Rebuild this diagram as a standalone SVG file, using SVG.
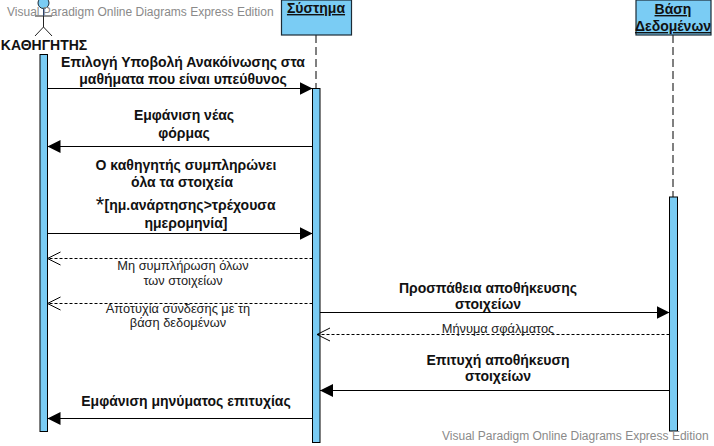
<svg xmlns="http://www.w3.org/2000/svg" width="714" height="446" viewBox="0 0 714 446">
<defs>
<marker id="solid" markerUnits="userSpaceOnUse" markerWidth="14" markerHeight="14" refX="13" refY="7" orient="auto"><path d="M0,0.5 L13,7 L0,13.5 Z" fill="#000"/></marker>
<marker id="open" markerUnits="userSpaceOnUse" markerWidth="15" markerHeight="16" refX="14" refY="8" orient="auto"><path d="M1,1.5 L14,8 L1,14.5" fill="none" stroke="#000" stroke-width="1"/></marker>
</defs>
<style>
text{font-family:"Liberation Sans",Arial,sans-serif;text-anchor:middle;fill:#111}
.b{font-weight:bold;font-size:14px}
.s{font-size:12.8px;fill:#222}
.h{font-weight:bold;font-size:14px;text-decoration:underline}
.w{font-size:12px;fill:#8a8a8a;text-anchor:start}
.box{fill:#7accf4;stroke:#1c2b36;stroke-width:1.2}
.bar{fill:#7accf4;stroke:#000;stroke-width:1}
.life{stroke:#000;stroke-width:1;stroke-dasharray:8 4;fill:none}
.m{stroke:#000;stroke-width:1.2;fill:none;marker-end:url(#solid)}
.d{stroke:#000;stroke-width:1;stroke-dasharray:3 2;fill:none;marker-end:url(#open)}
</style>
<g id="lifelines">
<path class="life" d="M316,35V88"/>
<path class="life" d="M673,35V197"/>
</g>
<g id="actor-kathigitis">
<circle cx="43.500" cy="3" r="5.500" fill="#7accf4" stroke="#1c2b36"/>
<path d="M43.500,8.500V27M35,16H52M43.500,27L35,36M43.500,27L52,36" stroke="#222" fill="none"/>
<text class="b" x="44" y="50">ΚΑΘΗΓΗΤΗΣ</text>
<rect class="bar" x="40" y="54.500" width="7.500" height="377"/>
</g>
<g id="node-systima">
<rect class="box" x="281.500" y="0" width="70" height="35"/>
<text class="h" x="316" y="13">Σύστημα</text>
<rect class="bar" x="312.500" y="88.500" width="7.500" height="354"/>
</g>
<g id="node-vasi">
<rect class="box" x="636" y="0" width="75" height="35"/>
<text class="h" x="673" y="14">Βάση</text>
<text class="h" x="673" y="31">Δεδομένων</text>
<rect class="bar" x="669.500" y="197" width="8" height="234"/>
</g>
<g id="connectors">
<path class="m" d="M47.500,88.500H312.500"/>
<path class="m" d="M312.500,146.500H47.500"/>
<path class="m" d="M47.500,233.500H312.500"/>
<path class="d" d="M312.500,258.500H47.500"/>
<path class="d" d="M312.500,303.500H47.500"/>
<path class="m" d="M320,312.500H669.500"/>
<path class="d" d="M669.500,334.500H317"/>
<path class="m" d="M669.500,390.500H320"/>
<path class="m" d="M312.500,418.500H47.500"/>
</g>
<g id="labels">
<text class="b" x="183" y="67">Επιλογή Υποβολή Ανακόίνωσης στα</text>
<text class="b" x="183" y="84">μαθήματα που είναι υπεύθυνος</text>
<text class="b" x="184" y="120">Εμφάνιση νέας</text>
<text class="b" x="184" y="138">φόρμας</text>
<text class="b" x="186" y="170">Ο καθηγητής συμπληρώνει</text>
<text class="b" x="182" y="187">όλα τα στοιχεία</text>
<text x="100" y="212" font-size="22">*</text>
<text class="b" x="190" y="210">[ημ.ανάρτησης&gt;τρέχουσα</text>
<text class="b" x="186" y="228">ημερομηνία]</text>
<text class="s" x="183" y="270">Μη συμπλήρωση όλων</text>
<text class="s" x="183" y="285">των στοιχείων</text>
<text class="s" x="178" y="313">Αποτυχία σύνδεσης με τη</text>
<text class="s" x="178" y="327">βάση δεδομένων</text>
<text class="b" x="488" y="293">Προσπάθεια αποθήκευσης</text>
<text class="b" x="488" y="309">στοιχείων</text>
<text class="s" x="498" y="333">Μήνυμα σφάλματος</text>
<text class="b" x="498" y="365">Επιτυχή αποθήκευση</text>
<text class="b" x="498" y="381">στοιχείων</text>
<text class="b" x="186" y="406">Εμφάνιση μηνύματος επιτυχίας</text>
</g>
<g id="watermarks">
<text class="w" x="7" y="16">Visual Paradigm Online Diagrams Express Edition</text>
<text class="w" x="442" y="440">Visual Paradigm Online Diagrams Express Edition</text>
</g>
</svg>
